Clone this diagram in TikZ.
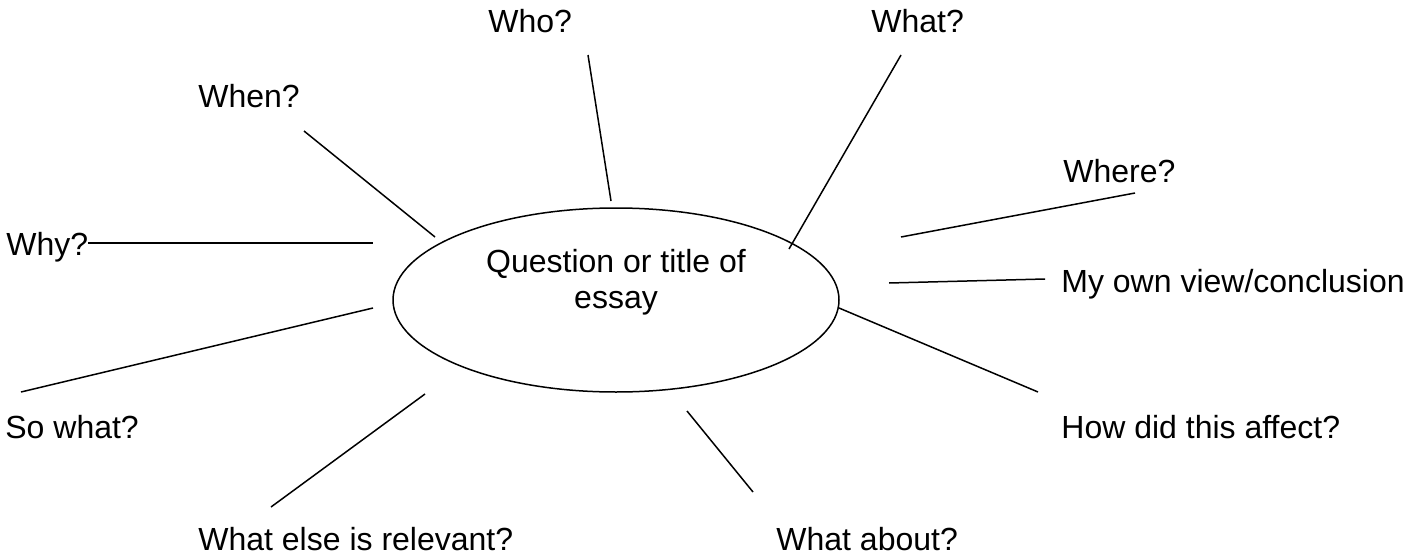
\documentclass[tikz,border=0pt]{standalone}
\usepackage{fontspec}
\setmainfont{Liberation Sans}
\usetikzlibrary{shapes.geometric}

\tikzset{
  spoke/.style={line width=0.75pt},
  prompt/.style={anchor=base west, inner sep=0pt},
}

\begin{document}
\begin{tikzpicture}[x=0.5pt, y=-0.5pt, font=\fontsize{16}{18}\selectfont]
\useasboundingbox (0,0) rectangle (1423,556);
% central topic
\node (topic) [draw, ellipse, line width=0.75pt, minimum width=223pt, minimum height=92pt] at (616,300) {};
\node (title) [align=center, inner sep=0pt] at (616,282) {Question or title of\\essay};
% prompts round the topic
\node (who) [prompt] at (488,33) {Who?};
\node (what) [prompt] at (871,33) {What?};
\node (when) [prompt] at (198,108) {When?};
\node (where) [prompt] at (1063,182) {Where?};
\node (why) [prompt] at (6,255) {Why?};
\node (view) [prompt] at (1061,292) {My own view/conclusion};
\node (sowhat) [prompt] at (5,438) {So what?};
\node (affect) [prompt] at (1061,438) {How did this affect?};
\node (relevant) [prompt] at (198,550) {What else is relevant?};
\node (about) [prompt] at (776,550) {What about?};
% spoke ends
\coordinate (who-out) at (588,55);   \coordinate (who-in) at (611,201);
\coordinate (what-out) at (901,55);  \coordinate (what-in) at (789,249);
\coordinate (when-out) at (304,131); \coordinate (when-in) at (435,237);
\coordinate (where-out) at (1135,193); \coordinate (where-in) at (901,237);
\coordinate (why-out) at (88,243);   \coordinate (why-in) at (373,243);
\coordinate (view-out) at (1045,279); \coordinate (view-in) at (889,283);
\coordinate (sowhat-out) at (21,392); \coordinate (sowhat-in) at (373,308);
\coordinate (affect-out) at (1038,392); \coordinate (affect-in) at (839,308);
\coordinate (relevant-out) at (271,507); \coordinate (relevant-in) at (425,394);
\coordinate (about-out) at (753,492); \coordinate (about-in) at (687,411);
% spokes
\draw[spoke] (who-out) -- (who-in);
\draw[spoke] (what-out) -- (what-in);
\draw[spoke] (when-out) -- (when-in);
\draw[spoke] (where-out) -- (where-in);
\draw[spoke] (why-out) -- (why-in);
\draw[spoke] (view-out) -- (view-in);
\draw[spoke] (sowhat-out) -- (sowhat-in);
\draw[spoke] (affect-out) -- (affect-in);
\draw[spoke] (relevant-out) -- (relevant-in);
\draw[spoke] (about-out) -- (about-in);
\end{tikzpicture}
\end{document}
